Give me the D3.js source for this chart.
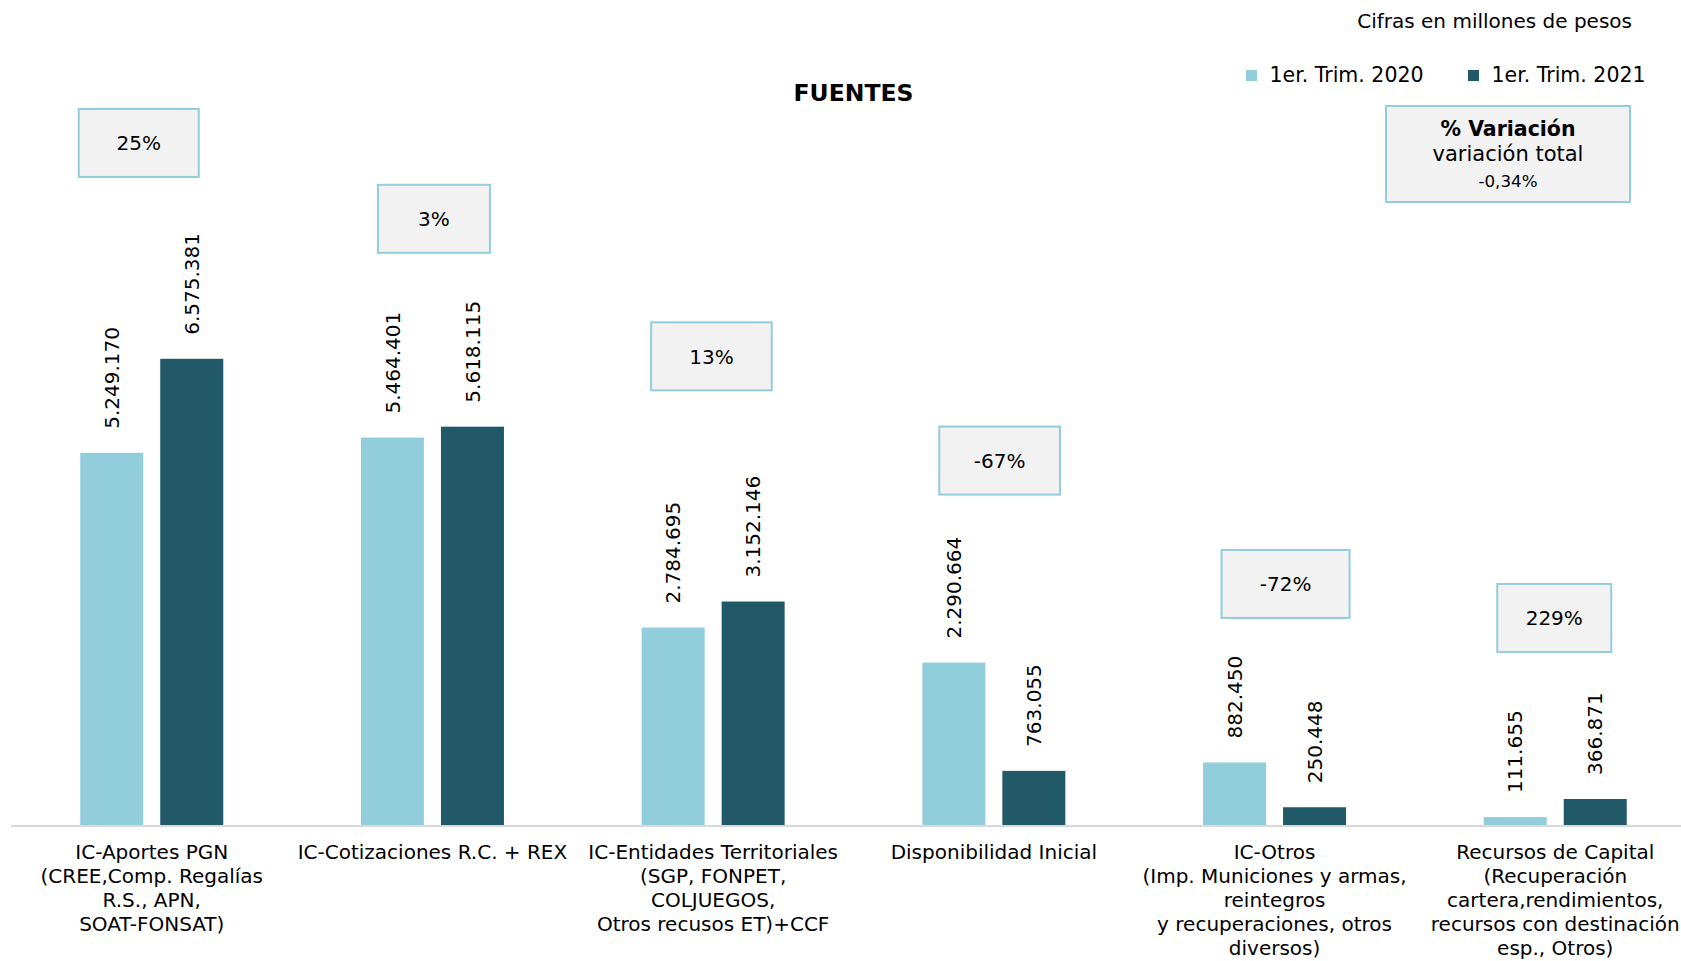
<!DOCTYPE html>
<html>
<head>
<meta charset="utf-8">
<script src="https://cdn.jsdelivr.net/npm/d3@7"></script>
<style>
  html, body { margin: 0; padding: 0; background: #fff; }
  svg text { font-family: "DejaVu Sans", Verdana, sans-serif; fill: #000; }
</style>
</head>
<body>
<div id="fuentes"></div>
<script>
// datos (millones de pesos)
var categorias = [
  ["IC-Aportes PGN", "(CREE,Comp. Regalías", "R.S., APN,", "SOAT-FONSAT)"],
  ["IC-Cotizaciones R.C. + REX"],
  ["IC-Entidades Territoriales", "(SGP, FONPET,", "COLJUEGOS,", "Otros recusos ET)+CCF"],
  ["Disponibilidad Inicial"],
  ["IC-Otros", "(Imp. Municiones y armas,", "reintegros", "y recuperaciones, otros", "diversos)"],
  ["Recursos de Capital", "(Recuperación", "cartera,rendimientos,", "recursos con destinación", "esp., Otros)"]
];
var series = ["1er. Trim. 2020", "1er. Trim. 2021"];
var trim2020 = [5249170, 5464401, 2784695, 2290664, 882450, 111655];
var trim2021 = [6575381, 5618115, 3152146, 763055, 250448, 366871];
var variacion = ["25%", "3%", "13%", "-67%", "-72%", "229%"];
// serie auxiliar oculta donde se anclan las etiquetas de variación
var anclaVariacion = [9620000, 8550000, 6610000, 5140000, 3400000, 2920000];
var variacionTotal = "-0,34%";

// ajuste manual de las cajas de etiqueta (como en la hoja original)
var cajaDx = [-13, 1.5, -1.7, 5.8, 11, -1];
var cajaW = [120, 112, 120.6, 120.7, 128, 114];

var colores = ["#92cddc", "#215968"];

var W = 1681, H = 961;
var svg = d3.select("#fuentes").append("svg")
  .attr("width", W).attr("height", H);

var es = d3.formatLocale({decimal: ",", thousands: ".", grouping: [3], currency: ["$", ""]});
var fmt = es.format(",d");

var idx = d3.range(categorias.length);
var x0 = d3.scaleBand().domain(idx).range([11.4, 1695.6]);
var x1 = d3.scaleBand().domain(series).range([0, 143]).paddingInner(0.2125);
var grupoOff = (x0.bandwidth() - 143) / 2;
var y = d3.scaleLinear().domain([0, 7000000]).range([825, 328.7]);

var filas = idx.map(function(i) {
  return {i: i, valores: [trim2020[i], trim2021[i]]};
});

// barras
var g = svg.selectAll("g.grupo").data(filas).enter().append("g")
  .attr("class", "grupo")
  .attr("transform", function(d) { return "translate(" + (x0(d.i) + grupoOff) + ",0)"; });

g.selectAll("rect").data(function(d) {
    return d.valores.map(function(v, k) { return {serie: series[k], v: v, k: k}; });
  })
  .enter().append("rect")
  .attr("x", function(d) { return x1(d.serie); })
  .attr("y", function(d) { return y(d.v); })
  .attr("width", x1.bandwidth())
  .attr("height", function(d) { return y(0) - y(d.v); })
  .style("fill", function(d) { return colores[d.k]; });

g.selectAll("text.valor").data(function(d) {
    return d.valores.map(function(v, k) { return {serie: series[k], v: v}; });
  })
  .enter().append("text")
  .attr("class", "valor")
  .attr("transform", function(d) {
    return "translate(" + (x1(d.serie) + x1.bandwidth() / 2) + "," + (y(d.v) - 24) + ") rotate(-90)";
  })
  .attr("dy", "0.36em")
  .style("font-size", "20px")
  .text(function(d) { return fmt(d.v); });

// eje
svg.append("line")
  .attr("x1", 11).attr("x2", W)
  .attr("y1", y(0) + 1).attr("y2", y(0) + 1)
  .style("stroke", "#d9d9d9").style("stroke-width", 2);

// etiquetas de categoría
svg.selectAll("text.cat").data(filas).enter().append("text")
  .attr("class", "cat")
  .attr("x", function(d) { return x0(d.i) + x0.bandwidth() / 2; })
  .attr("y", 858.5)
  .attr("text-anchor", "middle")
  .style("font-size", "20px")
  .each(function(d) {
    var t = d3.select(this);
    categorias[d.i].forEach(function(l, j) {
      t.append("tspan")
        .attr("x", x0(d.i) + x0.bandwidth() / 2)
        .attr("dy", j === 0 ? 0 : 24)
        .text(l);
    });
  });

// cajas de variación
var cajas = svg.selectAll("g.var").data(filas).enter().append("g")
  .attr("class", "var")
  .attr("transform", function(d) {
    return "translate(" + (x0(d.i) + x0.bandwidth() / 2 + cajaDx[d.i]) + "," + y(anclaVariacion[d.i]) + ")";
  });
cajas.append("rect")
  .attr("x", function(d) { return -cajaW[d.i] / 2; })
  .attr("y", -34)
  .attr("width", function(d) { return cajaW[d.i]; })
  .attr("height", 68)
  .style("fill", "#f2f2f2")
  .style("stroke", "#92cddc")
  .style("stroke-width", 2);
cajas.append("text")
  .attr("text-anchor", "middle")
  .attr("dy", "0.36em")
  .style("font-size", "20px")
  .text(function(d) { return variacion[d.i]; });

// título y notas
svg.append("text")
  .attr("x", 853.5).attr("y", 100.7)
  .attr("text-anchor", "middle")
  .style("font-size", "23.5px").style("font-weight", "bold")
  .text("FUENTES");

svg.append("text")
  .attr("x", 1632).attr("y", 28)
  .attr("text-anchor", "end")
  .style("font-size", "20px")
  .text("Cifras en millones de pesos");

// leyenda
var legX = [1246, 1468];
var ley = svg.selectAll("g.ley").data(series).enter().append("g")
  .attr("class", "ley")
  .attr("transform", function(d, k) { return "translate(" + legX[k] + ",70)"; });
ley.append("rect")
  .attr("width", 11).attr("height", 11)
  .style("fill", function(d, k) { return colores[k]; });
ley.append("text")
  .attr("x", 23.5).attr("y", 12)
  .style("font-size", "20.5px")
  .text(function(d) { return d; });

// caja de variación total
var tot = svg.append("g").attr("transform", "translate(1386,106)");
tot.append("rect")
  .attr("width", 244).attr("height", 96)
  .style("fill", "#f2f2f2")
  .style("stroke", "#92cddc")
  .style("stroke-width", 2);
tot.append("text")
  .attr("x", 122).attr("y", 30)
  .attr("text-anchor", "middle")
  .style("font-size", "20.5px").style("font-weight", "bold")
  .text("% Variación");
tot.append("text")
  .attr("x", 122).attr("y", 54.7)
  .attr("text-anchor", "middle")
  .style("font-size", "21px")
  .text("variación total");
tot.append("text")
  .attr("x", 122).attr("y", 80.5)
  .attr("text-anchor", "middle")
  .style("font-size", "16.7px")
  .text(variacionTotal);
</script>
</body>
</html>
